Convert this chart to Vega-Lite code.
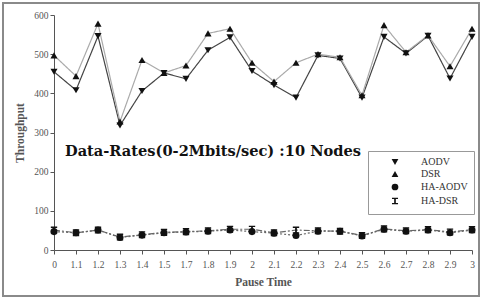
{
 "$schema": "https://vega.github.io/schema/vega-lite/v6.json",
 "width": 476, "height": 293,
 "autosize": {"type": "none"},
 "padding": {"left": 3, "top": 3, "right": 6, "bottom": 7},
 "background": "white",
 "config": {"view": {"stroke": "#8a8a8a", "strokeWidth": 2}, "font": "Liberation Serif"},
 "title": {"text": "Data-Rates(0-2Mbits/sec) :10 Nodes", "anchor": "start", "frame": "group", "orient": "top", "offset": 0, "baseline": "alphabetic", "dx": 62, "dy": 168, "font": "DejaVu Serif", "fontSize": 14.6, "fontWeight": "bold", "color": "#111"},
 "data": {"values": [
  {"t": "0", "AODV": 455, "DSR": 497, "HA-AODV": 47, "HA-DSR": 51},
  {"t": "1.1", "AODV": 408, "DSR": 444, "HA-AODV": 44, "HA-DSR": 44},
  {"t": "1.2", "AODV": 546, "DSR": 578, "HA-AODV": 51, "HA-DSR": 51},
  {"t": "1.3", "AODV": 318, "DSR": 328, "HA-AODV": 32, "HA-DSR": 33},
  {"t": "1.4", "AODV": 406, "DSR": 485, "HA-AODV": 38, "HA-DSR": 39},
  {"t": "1.5", "AODV": 452, "DSR": 452, "HA-AODV": 44, "HA-DSR": 45},
  {"t": "1.7", "AODV": 437, "DSR": 471, "HA-AODV": 46, "HA-DSR": 47},
  {"t": "1.8", "AODV": 510, "DSR": 553, "HA-AODV": 48, "HA-DSR": 49},
  {"t": "1.9", "AODV": 543, "DSR": 565, "HA-AODV": 51, "HA-DSR": 53},
  {"t": "2", "AODV": 457, "DSR": 478, "HA-AODV": 47, "HA-DSR": 53},
  {"t": "2.1", "AODV": 421, "DSR": 430, "HA-AODV": 43, "HA-DSR": 44},
  {"t": "2.2", "AODV": 389, "DSR": 478, "HA-AODV": 37, "HA-DSR": 51},
  {"t": "2.3", "AODV": 497, "DSR": 500, "HA-AODV": 48, "HA-DSR": 49},
  {"t": "2.4", "AODV": 489, "DSR": 492, "HA-AODV": 48, "HA-DSR": 48},
  {"t": "2.5", "AODV": 389, "DSR": 395, "HA-AODV": 36, "HA-DSR": 37},
  {"t": "2.6", "AODV": 544, "DSR": 574, "HA-AODV": 53, "HA-DSR": 54},
  {"t": "2.7", "AODV": 502, "DSR": 505, "HA-AODV": 48, "HA-DSR": 49},
  {"t": "2.8", "AODV": 547, "DSR": 548, "HA-AODV": 51, "HA-DSR": 52},
  {"t": "2.9", "AODV": 438, "DSR": 469, "HA-AODV": 44, "HA-DSR": 46},
  {"t": "3", "AODV": 544, "DSR": 565, "HA-AODV": 51, "HA-DSR": 52}
 ]},
 "encoding": {
  "x": {"field": "t", "type": "ordinal", "title": "Pause Time",
   "scale": {"type": "point", "domain": ["0","1.1","1.2","1.3","1.4","1.5","1.7","1.8","1.9","2","2.1","2.2","2.3","2.4","2.5","2.6","2.7","2.8","2.9","3"], "range": [51, 469], "padding": 0},
   "axis": {"offset": -46, "labelAngle": 0, "tickSize": 4, "labelPadding": 5, "labelFontSize": 9.5, "labelColor": "#555", "labelFont": "Liberation Serif", "domainColor": "#555", "tickColor": "#555", "titleFont": "Liberation Serif", "titleFontSize": 11.5, "titleFontWeight": "bold", "titleColor": "#555", "titlePadding": 8, "grid": false}},
  "y": {"field": "v", "type": "quantitative", "title": "Throughput",
   "scale": {"domain": [0, 600], "range": [247, 12], "nice": false},
   "axis": {"offset": -51, "values": [0, 100, 200, 300, 400, 500, 600], "tickSize": 4, "labelPadding": 2, "labelFontSize": 9.5, "labelColor": "#555", "labelFont": "Liberation Serif", "domainColor": "#555", "tickColor": "#555", "titleFont": "Liberation Serif", "titleFontSize": 11.5, "titleFontWeight": "bold", "titleColor": "#555", "titlePadding": 8, "grid": false}}
 },
 "layer": [
  {"transform": [{"fold": ["AODV", "DSR", "HA-AODV", "HA-DSR"], "as": ["s", "v"]}],
   "mark": {"type": "line", "strokeWidth": 1.2},
   "encoding": {
    "color": {"field": "s", "type": "nominal", "scale": {"range": ["#444444", "#aaaaaa", "#666666", "#666666"]}, "legend": null},
    "strokeDash": {"field": "s", "type": "nominal", "scale": {"range": [[1, 0], [1, 0], [2, 2], [6, 2, 2, 2]]}, "legend": null}
   }},
  {"transform": [{"fold": ["AODV", "DSR", "HA-AODV", "HA-DSR"], "as": ["series", "v"]}],
   "mark": {"type": "point", "filled": true, "opacity": 1, "color": "#111"},
   "encoding": {
    "shape": {"field": "series", "type": "nominal",
     "scale": {"domain": ["AODV", "DSR", "HA-AODV", "HA-DSR"], "range": ["triangle-down", "triangle-up", "circle", "M-0.9,-1H0.9V-0.6H0.25V0.6H0.9V1H-0.9V0.6H-0.25V-0.6H-0.9Z"]},
     "legend": {"title": null, "orient": "none", "legendX": 365, "legendY": 148, "strokeColor": "#999", "fillColor": "white", "padding": 6, "symbolOffset": 16, "labelOffset": 21, "rowPadding": 0, "symbolSize": 45, "symbolFillColor": "#111", "symbolStrokeColor": "#111", "labelFont": "Liberation Serif", "labelFontSize": 10, "labelColor": "#333"}},
    "size": {"value": 50}
   }}
 ]
}
